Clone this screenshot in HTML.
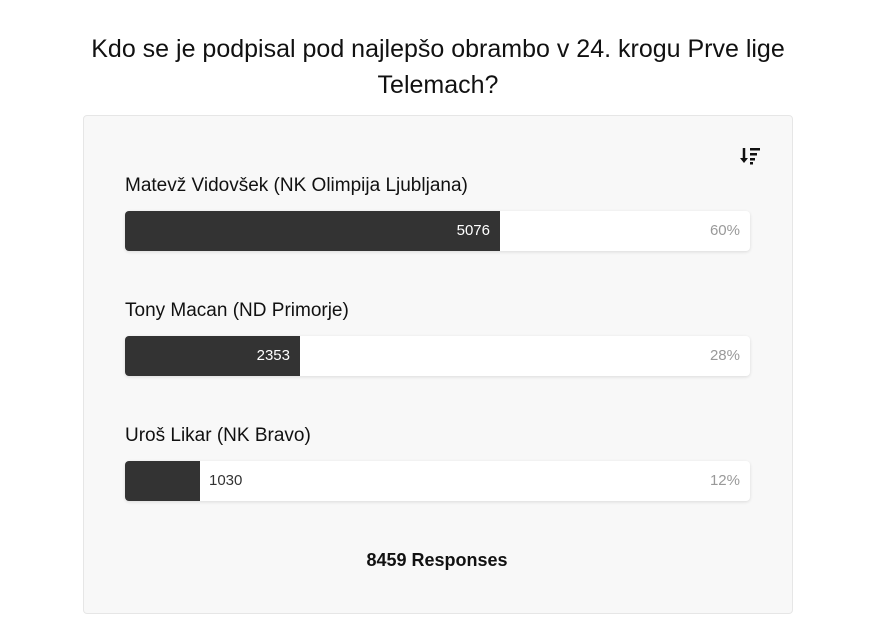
<!DOCTYPE html>
<html><head><meta charset="utf-8"><style>
body{margin:0;width:888px;height:639px;background:#fff;font-family:"Liberation Sans",sans-serif;color:#111;position:relative;overflow:hidden}
.t{position:absolute;left:0;width:876px;text-align:center;font-size:25px;line-height:36px;top:31px;color:#111}
.card{position:absolute;left:83px;top:115px;width:708px;height:497px;background:#f8f8f8;border:1px solid #e6e6e6;border-radius:4px}
.lab{position:absolute;left:125px;font-size:19px;color:#111}
.bar{position:absolute;left:125px;width:625px;height:40px;background:#fff;border-radius:4px;box-shadow:0 1px 3px rgba(0,0,0,.12);overflow:hidden}
.fill{position:absolute;left:0;top:0;height:40px;background:#333;color:#fff;font-size:15px;line-height:40px;text-align:right;box-sizing:border-box;padding-right:10px}
.pct{position:absolute;right:10px;top:0;line-height:40px;font-size:15px;color:#999}
.out{position:absolute;left:84px;top:0;line-height:40px;font-size:15px;color:#333}
.resp{position:absolute;left:83px;width:708px;top:550px;text-align:center;font-weight:bold;font-size:18px}
</style></head><body>
<div class="t">Kdo se je podpisal pod najlepšo obrambo v 24. krogu Prve lige<br>Telemach?</div>
<div class="card"></div>
<svg style="position:absolute;left:740px;top:146px" width="22" height="20"><path d="M4 2v13" stroke="#111" stroke-width="2.5"/><path d="M0 12l4 5 4-5z" fill="#111"/><rect x="10" y="2" width="10" height="2.5" fill="#111"/><rect x="10" y="7" width="7" height="2.5" fill="#111"/><rect x="10" y="12" width="5" height="2.5" fill="#111"/><rect x="10" y="16" width="3" height="2.5" fill="#111"/></svg>
<div class="lab" style="top:175px">Matevž Vidovšek (NK Olimpija Ljubljana)</div>
<div class="bar" style="top:211px"><div class="fill" style="width:375px">5076</div><div class="pct">60%</div></div>
<div class="lab" style="top:300px">Tony Macan (ND Primorje)</div>
<div class="bar" style="top:336px"><div class="fill" style="width:175px">2353</div><div class="pct">28%</div></div>
<div class="lab" style="top:425px">Uroš Likar (NK Bravo)</div>
<div class="bar" style="top:461px"><div class="fill" style="width:75px"></div><div class="out">1030</div><div class="pct">12%</div></div>
<div class="resp">8459 Responses</div>
</body></html>
